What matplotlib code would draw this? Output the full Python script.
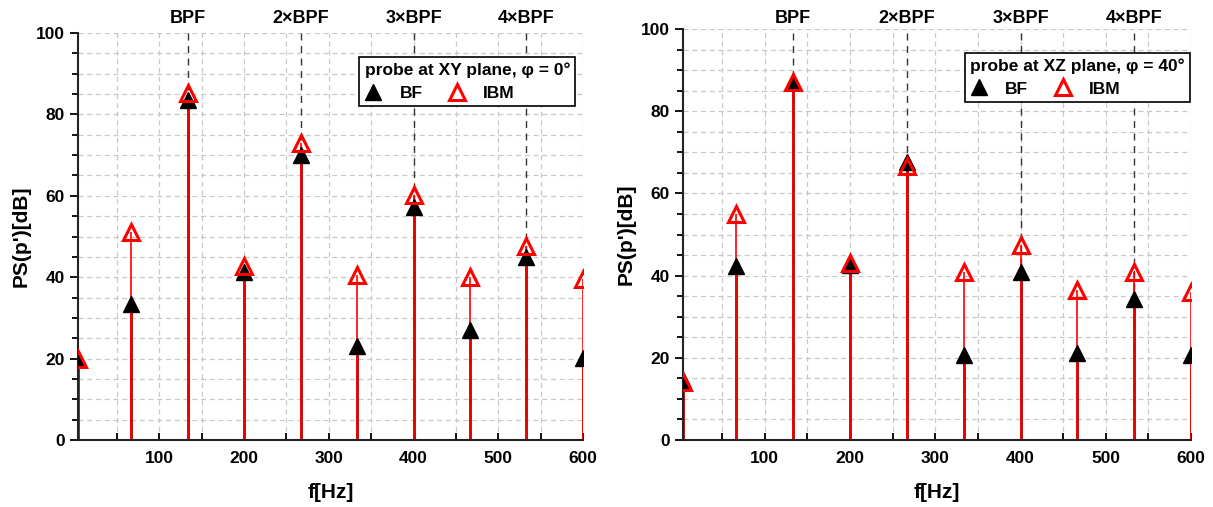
import matplotlib
matplotlib.use("Agg")
import matplotlib.pyplot as plt
import matplotlib.transforms as mtransforms
from matplotlib.ticker import MultipleLocator

plt.rcParams['font.family'] = ['Liberation Sans', 'DejaVu Sans']
plt.rcParams['font.weight'] = 'bold'

# Data
freq = [4, 66.7, 133.3, 200, 266.7, 333.3, 400, 466.7, 533.3, 600]
bpf_freqs = [133.3, 266.7, 400, 533.3]
bpf_labels = ["BPF", "2×BPF", "3×BPF", "4×BPF"]

xy_bf = [20, 33.5, 83.5, 41.3, 70, 23, 57.2, 27, 45, 20.2]
xy_ibm = [20, 51, 85.3, 42.7, 73, 40.5, 60.2, 40, 47.6, 39.6]

xz_bf = [14.5, 42.3, 87, 42.6, 67.6, 20.6, 40.8, 21.2, 34.2, 20.6]
xz_ibm = [14, 55, 87.2, 43, 66.6, 41, 47.4, 36.4, 41, 36]

titles = ["probe at XY plane, φ = 0°", "probe at XZ plane, φ = 40°"]

fig = plt.figure(figsize=(12.13, 5.07), dpi=100)
ax1 = fig.add_axes([0.0643, 0.1321, 0.4163, 0.8028])
ax2 = fig.add_axes([0.5631, 0.1321, 0.4188, 0.8107])

panels = [(ax1, xy_bf, xy_ibm, titles[0], (0.985, 0.941), 0.0),
          (ax2, xz_bf, xz_ibm, titles[1], (0.998, 0.942), -2.5)]

for ax, bf, ibm, title, anchor, lab_off in panels:
    ax.set_xlim(4, 600)
    ax.set_ylim(0, 100)
    ax.xaxis.set_major_locator(MultipleLocator(100))
    ax.xaxis.set_minor_locator(MultipleLocator(50))
    ax.yaxis.set_major_locator(MultipleLocator(20))
    ax.yaxis.set_minor_locator(MultipleLocator(5))
    ax.grid(True, which='both', color='#c8c8c8', linestyle=(0, (4, 3)), linewidth=0.9)
    ax.set_axisbelow(True)
    for s in ['top', 'right']:
        ax.spines[s].set_visible(False)
    for s in ['left', 'bottom']:
        ax.spines[s].set_linewidth(1.5)
        ax.spines[s].set_color('#222222')
    ax.tick_params(axis='x', which='both', direction='in', labelsize=12.5, width=1.3)
    ax.tick_params(axis='x', which='major', length=5, pad=8)
    ax.tick_params(axis='x', which='minor', length=5)
    ax.tick_params(axis='y', which='both', direction='out', labelsize=12.5, width=1.3)
    ax.tick_params(axis='y', which='major', length=6)
    ax.tick_params(axis='y', which='minor', length=4)
    ax.set_xticks([100, 200, 300, 400, 500, 600])
    for lab in ax.get_xticklabels() + ax.get_yticklabels():
        lab.set_fontweight('bold')

    ax.set_xlabel("f[Hz]", fontsize=15, fontweight='bold', labelpad=12)
    ax.set_ylabel("PS(p')[dB]", fontsize=15, fontweight='bold', labelpad=4)

    # BPF harmonic dashed lines and labels
    trans = mtransforms.blended_transform_factory(ax.transData, ax.transAxes)
    lab_trans = trans + mtransforms.ScaledTranslation(0, (4 + lab_off) / 72, fig.dpi_scale_trans)
    for f, lab in zip(bpf_freqs, bpf_labels):
        ax.plot([f, f], [0, 1.0], transform=trans, color='#333333',
                linestyle=(0, (5, 4)), linewidth=1.0, zorder=1.5, clip_on=False)
        ax.text(f, 1.0, lab, transform=lab_trans, ha='center', va='bottom',
                fontsize=13, fontweight='bold')
    # stems
    ax.vlines(freq, 0, bf, colors='#b00000', linewidth=2.0, zorder=2)
    ax.vlines(freq, 0, ibm, colors='#ff0000', linewidth=1.2, zorder=2.2)
    h_bf, = ax.plot(freq, bf, linestyle='none', marker='^', markersize=11,
                    markerfacecolor='black', markeredgecolor='black', zorder=3,
                    label='BF')
    h_ibm, = ax.plot(freq, ibm, linestyle='none', marker='^', markersize=11,
                     markerfacecolor='none', markeredgecolor='#ff0000',
                     markeredgewidth=2.2, zorder=4, label='IBM')

    leg = ax.legend(handles=[h_bf, h_ibm], title=title, ncol=2,
                    loc='upper right', bbox_to_anchor=anchor, borderaxespad=0,
                    frameon=True, fancybox=False, edgecolor='black',
                    framealpha=1, fontsize=12.5, title_fontsize=12.5,
                    handletextpad=1.0, columnspacing=1.5, borderpad=0.3,
                    labelspacing=0.45, handlelength=1.0)
    leg.get_frame().set_linewidth(1.2)
    leg.get_title().set_fontweight('bold')
    leg._legend_box.align = "left"
    for t in leg.get_texts():
        t.set_fontweight('bold')
    leg.set_zorder(10)

fig.savefig("out.png", dpi=100)
